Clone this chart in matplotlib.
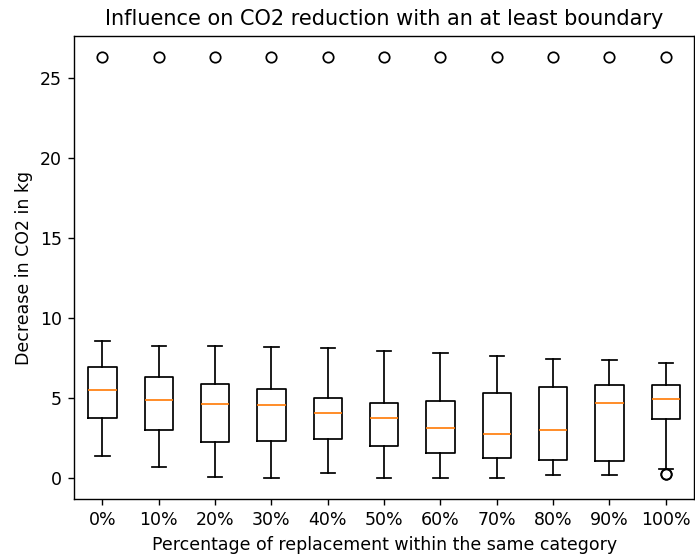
import matplotlib
matplotlib.use("Agg")
import matplotlib.pyplot as plt

# Replacement share within the same category
labels = ["0%", "10%", "20%", "30%", "40%", "50%", "60%", "70%", "80%", "90%", "100%"]

# Box statistics of the CO2 decrease (kg) per replacement share
whisker_low = [1.41, 0.72, 0.09, 0.00, 0.30, 0.00, 0.00, 0.00, 0.23, 0.23, 0.55]
q1 = [3.73, 3.00, 2.26, 2.35, 2.43, 2.03, 1.55, 1.26, 1.16, 1.07, 3.69]
median = [5.51, 4.88, 4.63, 4.55, 4.08, 3.77, 3.14, 2.74, 3.00, 4.71, 4.94]
q3 = [6.97, 6.34, 5.89, 5.57, 5.03, 4.71, 4.80, 5.34, 5.72, 5.80, 5.80]
whisker_high = [8.57, 8.25, 8.25, 8.17, 8.10, 7.94, 7.79, 7.60, 7.47, 7.37, 7.22]
outliers = [
    [26.31], [26.31], [26.31], [26.31], [26.31], [26.31],
    [26.31], [26.31], [26.31], [26.31], [26.31, 0.27, 0.24],
]

stats = []
for lab, lo, a, m, b, hi, fl in zip(labels, whisker_low, q1, median, q3,
                                   whisker_high, outliers):
    stats.append({"label": lab, "whislo": lo, "q1": a, "med": m,
                  "q3": b, "whishi": hi, "fliers": fl})

W, H, DPI = 695, 558, 125
fig = plt.figure(figsize=(W / DPI, H / DPI), dpi=DPI)
ax = fig.add_axes([74.3 / W, 1 - 499.3 / H, (694 - 74.3) / W, (499.3 - 35.7) / H])
ax.bxp(stats)

ax.set_title("Influence on CO2 reduction with an at least boundary")
ax.set_xlabel("Percentage of replacement within the same category")
ax.set_ylabel("Decrease in CO2 in kg")

fig.savefig("out.png", dpi=DPI)
